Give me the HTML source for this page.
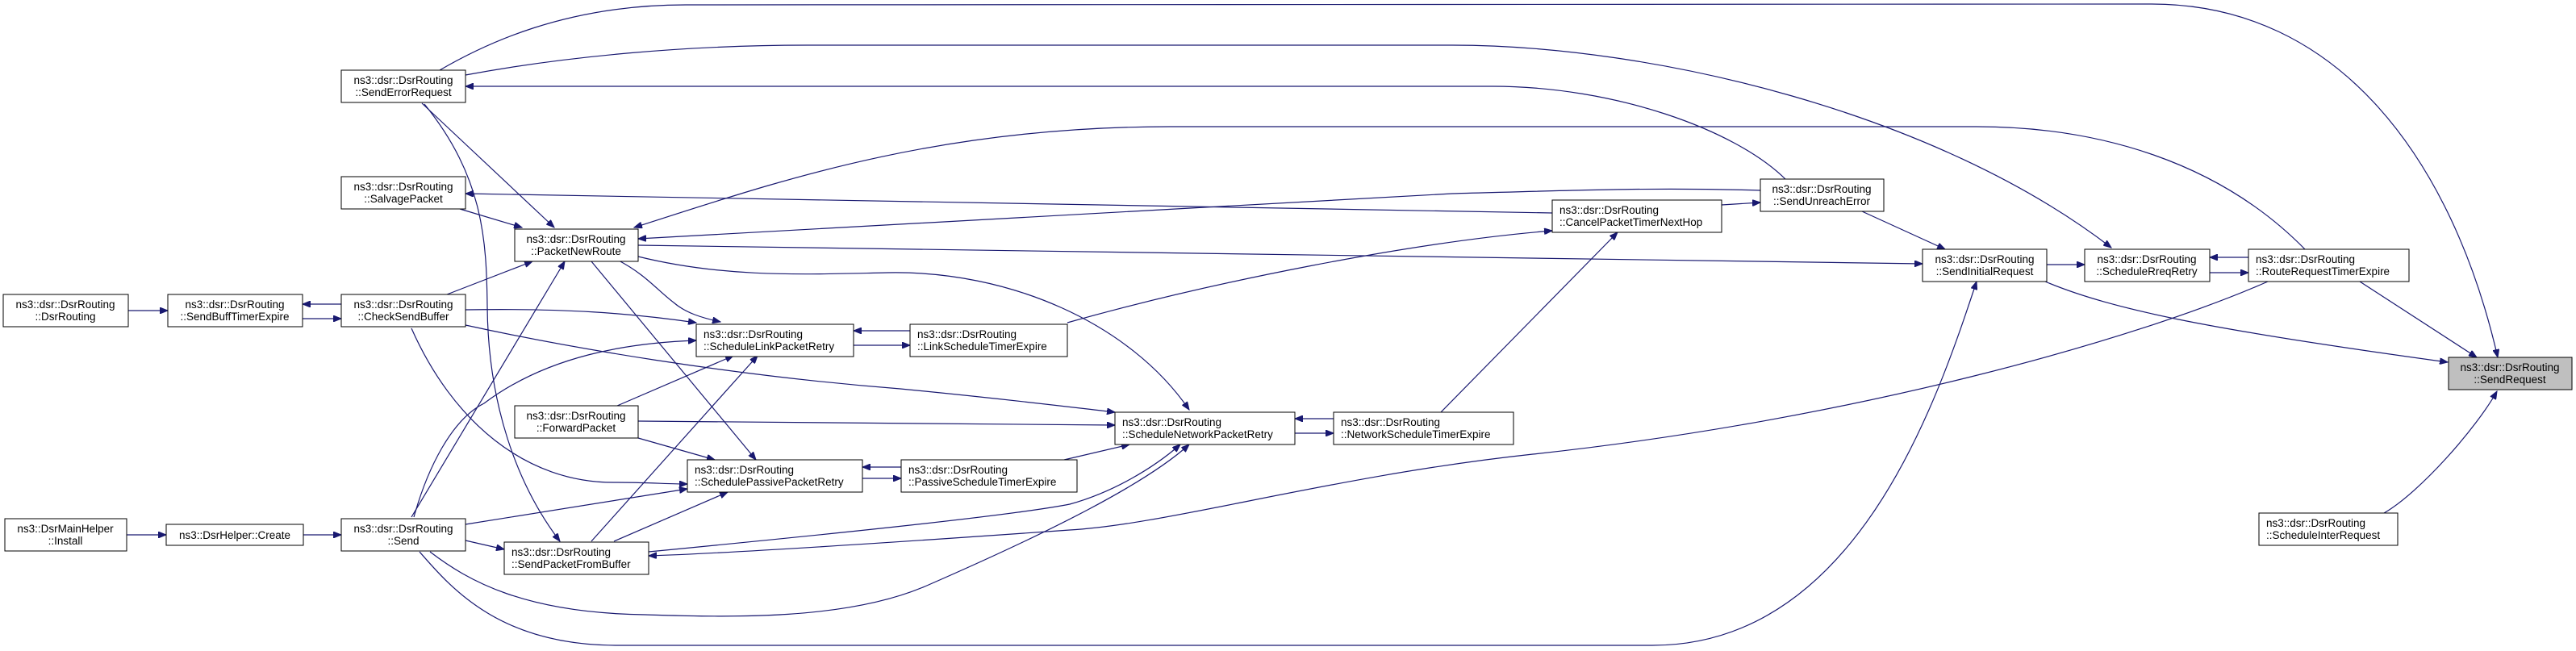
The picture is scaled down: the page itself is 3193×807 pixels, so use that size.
<!DOCTYPE html>
<html><head><meta charset="utf-8"><style>html,body{margin:0;padding:0;background:#fff}svg{display:block}</style></head>
<body>
<svg width="3193" height="807" viewBox="0 0 3193 807" xmlns="http://www.w3.org/2000/svg">
<defs><marker id="a" markerUnits="userSpaceOnUse" markerWidth="11" markerHeight="8" refX="10" refY="4" orient="auto"><path d="M0,0 L10,4 L0,8 z" fill="#191970" stroke="#191970"/></marker></defs>
<g fill="none" stroke="#191970" stroke-width="1.2" marker-end="url(#a)">
<path d="M2955,636 C3000,610 3070,530 3095,485"/>
<path d="M2925,349 L3070,443"/>
<path d="M2535,349 C2620,385 2750,410 3034,449"/>
<path d="M545,87 C600,55 700,6 850,6 L2667,5 C2900,5 3040,200 3096,443"/>
<path d="M577,93 C700,70 850,56 1000,56 L1800,56 C2050,56 2400,140 2617,307"/>
<path d="M2213,222 C2150,160 2000,107 1850,107 L577,107"/>
<path d="M2857,309 C2750,200 2600,157 2450,157 L1450,157 C1150,157 950,230 786,282"/>
<path d="M2182,236 C2050,232 1950,236 1800,240 L791,296"/>
<path d="M1924,264 L577,240"/>
<path d="M791,304 L2383,327"/>
<path d="M791,318 C900,345 1000,340 1100,338 C1250,335 1400,400 1474,508"/>
<path d="M765,322 C800,340 815,360 835,375 C850,388 870,394 893,399"/>
<path d="M733,324 L937,570"/>
<path d="M570,259 L647,282"/>
<path d="M523,128 L687,282"/>
<path d="M526,129 C600,220 603,300 604,380 C605,500 640,600 694,671"/>
<path d="M554,365 L660,324"/>
<path d="M510,641 L700,324"/>
<path d="M423,377 L375,377"/>
<path d="M375,395 L423,395"/>
<path d="M159,385 L208,385"/>
<path d="M577,384 C700,382 780,388 863,400"/>
<path d="M577,403 C700,430 900,465 1116,482 C1250,495 1330,505 1382,511"/>
<path d="M510,407 C560,520 650,600 765,598 C800,598 830,600 852,600"/>
<path d="M513,641 C530,580 560,520 600,500 C680,440 780,425 863,422"/>
<path d="M765,503 L909,441"/>
<path d="M791,522 L1382,527"/>
<path d="M791,543 L886,570"/>
<path d="M577,650 L852,606"/>
<path d="M577,670 L625,681"/>
<path d="M733,671 L939,441"/>
<path d="M761,671 L902,610"/>
<path d="M804,684 C1000,665 1250,640 1326,625 C1380,610 1430,580 1463,551"/>
<path d="M2811,349 C2650,420 2300,520 1900,563 C1650,590 1450,650 1326,657 C1100,673 900,686 804,689"/>
<path d="M533,684 C580,720 650,760 800,762 C900,765 1050,770 1151,725 C1300,660 1420,600 1474,551"/>
<path d="M520,684 C560,730 620,800 765,800 L2048,800 C2300,800 2400,500 2450,349"/>
<path d="M1323,400 C1500,350 1750,300 1924,286"/>
<path d="M1786,511 L2005,288"/>
<path d="M2134,254 L2182,251"/>
<path d="M2308,262 L2411,309"/>
<path d="M2537,328 L2584,328"/>
<path d="M2787,319 L2739,319"/>
<path d="M2739,338 L2787,338"/>
<path d="M1128,410 L1058,410"/>
<path d="M1058,428 L1128,428"/>
<path d="M1653,519 L1605,519"/>
<path d="M1605,537 L1653,537"/>
<path d="M1117,579 L1069,579"/>
<path d="M1069,593 L1117,593"/>
<path d="M1319,570 L1400,551"/>
<path d="M157,663 L206,663"/>
<path d="M376,663 L423,663"/>
</g>
<g font-family="'Liberation Sans', sans-serif" font-size="13.5" text-anchor="middle" fill="#000">
<g stroke="#000" stroke-width="1" fill="#fff">
<rect x="423" y="87" width="154" height="40"/>
<rect x="423" y="219" width="154" height="40"/>
<rect x="638" y="284" width="153" height="40"/>
<rect x="4" y="365" width="155" height="40"/>
<rect x="208" y="365" width="167" height="40"/>
<rect x="423" y="365" width="154" height="40"/>
<rect x="863" y="402" width="195" height="40"/>
<rect x="1128" y="402" width="195" height="40"/>
<rect x="638" y="503" width="153" height="40"/>
<rect x="1382" y="511" width="223" height="40"/>
<rect x="1653" y="511" width="223" height="40"/>
<rect x="852" y="570" width="217" height="40"/>
<rect x="1117" y="570" width="218" height="40"/>
<rect x="6" y="643" width="151" height="40"/>
<rect x="206" y="650" width="170" height="26"/>
<rect x="423" y="643" width="154" height="40"/>
<rect x="625" y="672" width="179" height="40"/>
<rect x="1924" y="248" width="210" height="40"/>
<rect x="2182" y="222" width="153" height="40"/>
<rect x="2383" y="309" width="154" height="40"/>
<rect x="2584" y="309" width="155" height="40"/>
<rect x="2787" y="309" width="199" height="40"/>
<rect x="3035" y="443" width="153" height="40" fill="#bfbfbf"/>
<rect x="2800" y="636" width="172" height="40"/>
</g>
<text x="500" y="104">ns3::dsr::DsrRouting</text><text x="500" y="119">::SendErrorRequest</text>
<text x="500" y="236">ns3::dsr::DsrRouting</text><text x="500" y="251">::SalvagePacket</text>
<text x="714" y="301">ns3::dsr::DsrRouting</text><text x="714" y="316">::PacketNewRoute</text>
<text x="81" y="382">ns3::dsr::DsrRouting</text><text x="81" y="397">::DsrRouting</text>
<text x="291" y="382">ns3::dsr::DsrRouting</text><text x="291" y="397">::SendBuffTimerExpire</text>
<text x="500" y="382">ns3::dsr::DsrRouting</text><text x="500" y="397">::CheckSendBuffer</text>
<g text-anchor="start">
<text x="872" y="419">ns3::dsr::DsrRouting</text><text x="872" y="434">::ScheduleLinkPacketRetry</text>
<text x="1137" y="419">ns3::dsr::DsrRouting</text><text x="1137" y="434">::LinkScheduleTimerExpire</text>
<text x="1391" y="528">ns3::dsr::DsrRouting</text><text x="1391" y="543">::ScheduleNetworkPacketRetry</text>
<text x="1662" y="528">ns3::dsr::DsrRouting</text><text x="1662" y="543">::NetworkScheduleTimerExpire</text>
<text x="861" y="587">ns3::dsr::DsrRouting</text><text x="861" y="602">::SchedulePassivePacketRetry</text>
<text x="1126" y="587">ns3::dsr::DsrRouting</text><text x="1126" y="602">::PassiveScheduleTimerExpire</text>
<text x="634" y="689">ns3::dsr::DsrRouting</text><text x="634" y="704">::SendPacketFromBuffer</text>
<text x="1933" y="265">ns3::dsr::DsrRouting</text><text x="1933" y="280">::CancelPacketTimerNextHop</text>
<text x="2796" y="326">ns3::dsr::DsrRouting</text><text x="2796" y="341">::RouteRequestTimerExpire</text>
<text x="2809" y="653">ns3::dsr::DsrRouting</text><text x="2809" y="668">::ScheduleInterRequest</text>
</g>
<text x="714" y="520">ns3::dsr::DsrRouting</text><text x="714" y="535">::ForwardPacket</text>
<text x="81" y="660">ns3::DsrMainHelper</text><text x="81" y="675">::Install</text>
<text x="291" y="668">ns3::DsrHelper::Create</text>
<text x="500" y="660">ns3::dsr::DsrRouting</text><text x="500" y="675">::Send</text>
<text x="2258" y="239">ns3::dsr::DsrRouting</text><text x="2258" y="254">::SendUnreachError</text>
<text x="2460" y="326">ns3::dsr::DsrRouting</text><text x="2460" y="341">::SendInitialRequest</text>
<text x="2661" y="326">ns3::dsr::DsrRouting</text><text x="2661" y="341">::ScheduleRreqRetry</text>
<text x="3111" y="460">ns3::dsr::DsrRouting</text><text x="3111" y="475">::SendRequest</text>
</g>
</svg>
</body></html>
